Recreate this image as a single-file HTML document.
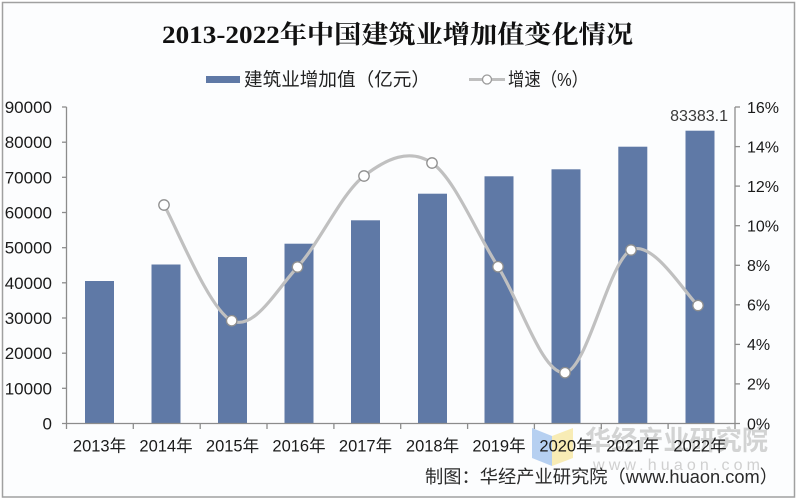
<!DOCTYPE html>
<html><head><meta charset="utf-8">
<style>
html,body{margin:0;padding:0;background:#fff;}
svg{display:block;}
text{font-family:"Liberation Sans","Noto Sans CJK SC",sans-serif;}
</style></head>
<body>
<svg width="797" height="500" viewBox="0 0 797 500" xmlns="http://www.w3.org/2000/svg">
<rect x="0" y="0" width="797" height="500" fill="#ffffff"/>
<rect x="2.5" y="2.5" width="792" height="494.5" fill="#fcfdfe" stroke="#a0a0a0" stroke-width="1.5"/>

<!-- Title -->
<text x="162" y="43" font-size="25" font-weight="bold" fill="#111" textLength="471" lengthAdjust="spacingAndGlyphs" style="font-family:'Liberation Serif','Noto Serif CJK SC',serif;">2013-2022年中国建筑业增加值变化情况</text>

<!-- Legend -->
<rect x="206" y="76" width="34" height="7" fill="#5f79a6"/>
<text x="244" y="86" font-size="18.6" fill="#222" textLength="186" lengthAdjust="spacingAndGlyphs">建筑业增加值（亿元）</text>
<line x1="469" y1="79.5" x2="505" y2="79.5" stroke="#bfbfbf" stroke-width="3"/>
<circle cx="487" cy="79.5" r="4.5" fill="#fff" stroke="#9a9a9a" stroke-width="1.3"/>
<text x="508" y="86" font-size="18.6" fill="#222" textLength="80" lengthAdjust="spacingAndGlyphs">增速（%）</text>

<!-- Watermark -->
<polygon points="532,428 552,436 552,466 532,458" fill="#a9c8ef" opacity="0.85"/>
<polygon points="552,436 573,428 573,458 552,466" fill="#f7e9a8" opacity="0.85"/>
<text x="585" y="450" font-size="27" font-weight="bold" fill="#c4c4c4" fill-opacity="0.75" textLength="183" lengthAdjust="spacingAndGlyphs">华经产业研究院</text>
<text x="593" y="470" font-size="16" fill="#c4c4c4" fill-opacity="0.8" textLength="167" lengthAdjust="spacing">www.huaon.com</text>

<!-- Bars -->
<g fill="#5f79a6">
<rect x="85" y="281" width="29" height="142.5"/>
<rect x="151.5" y="264.5" width="29" height="159"/>
<rect x="218" y="257" width="29" height="166.5"/>
<rect x="284.5" y="243.7" width="29" height="179.8"/>
<rect x="351" y="220.3" width="29" height="203.2"/>
<rect x="418" y="193.7" width="29" height="229.8"/>
<rect x="484.5" y="176.3" width="29" height="247.2"/>
<rect x="551.5" y="169.3" width="29" height="254.2"/>
<rect x="618.3" y="146.7" width="29" height="276.8"/>
<rect x="685.5" y="130.7" width="29" height="292.8"/>
</g>

<!-- Axes -->
<g stroke="#8c8c8c" stroke-width="1.3" fill="none">
<line x1="66.5" y1="107" x2="66.5" y2="423.5"/>
<line x1="735" y1="107" x2="735" y2="423.5"/>
<line x1="62" y1="423.5" x2="740" y2="423.5"/>
<!-- left ticks -->
<line x1="62" y1="107" x2="66.5" y2="107"/>
<line x1="62" y1="142.2" x2="66.5" y2="142.2"/>
<line x1="62" y1="177.3" x2="66.5" y2="177.3"/>
<line x1="62" y1="212.5" x2="66.5" y2="212.5"/>
<line x1="62" y1="247.7" x2="66.5" y2="247.7"/>
<line x1="62" y1="282.8" x2="66.5" y2="282.8"/>
<line x1="62" y1="318" x2="66.5" y2="318"/>
<line x1="62" y1="353.2" x2="66.5" y2="353.2"/>
<line x1="62" y1="388.3" x2="66.5" y2="388.3"/>
<!-- right ticks -->
<line x1="735" y1="107" x2="740" y2="107"/>
<line x1="735" y1="146.6" x2="740" y2="146.6"/>
<line x1="735" y1="186.1" x2="740" y2="186.1"/>
<line x1="735" y1="225.7" x2="740" y2="225.7"/>
<line x1="735" y1="265.3" x2="740" y2="265.3"/>
<line x1="735" y1="304.8" x2="740" y2="304.8"/>
<line x1="735" y1="344.4" x2="740" y2="344.4"/>
<line x1="735" y1="383.9" x2="740" y2="383.9"/>
<!-- x ticks -->
<line x1="66.5" y1="423.5" x2="66.5" y2="429"/>
<line x1="133.3" y1="423.5" x2="133.3" y2="429"/>
<line x1="200.2" y1="423.5" x2="200.2" y2="429"/>
<line x1="267" y1="423.5" x2="267" y2="429"/>
<line x1="333.9" y1="423.5" x2="333.9" y2="429"/>
<line x1="400.7" y1="423.5" x2="400.7" y2="429"/>
<line x1="467.6" y1="423.5" x2="467.6" y2="429"/>
<line x1="534.4" y1="423.5" x2="534.4" y2="429"/>
<line x1="601.3" y1="423.5" x2="601.3" y2="429"/>
<line x1="668.1" y1="423.5" x2="668.1" y2="429"/>
<line x1="735" y1="423.5" x2="735" y2="429"/>
</g>

<!-- Left labels -->
<g font-size="17" fill="#1a1a1a" text-anchor="end">
<text x="52" y="113">90000</text>
<text x="52" y="148.2">80000</text>
<text x="52" y="183.3">70000</text>
<text x="52" y="218.5">60000</text>
<text x="52" y="253.7">50000</text>
<text x="52" y="288.8">40000</text>
<text x="52" y="324">30000</text>
<text x="52" y="359.2">20000</text>
<text x="52" y="394.3">10000</text>
<text x="52" y="429.5">0</text>
</g>

<!-- Right labels -->
<g font-size="16" fill="#1a1a1a">
<text x="747" y="112.8">16%</text>
<text x="747" y="152.4">14%</text>
<text x="747" y="191.9">12%</text>
<text x="747" y="231.5">10%</text>
<text x="747" y="271.1">8%</text>
<text x="747" y="310.6">6%</text>
<text x="747" y="350.2">4%</text>
<text x="747" y="389.7">2%</text>
<text x="747" y="429.3">0%</text>
</g>

<!-- X labels -->
<g font-size="16.5" fill="#1a1a1a" text-anchor="middle">
<text x="99.5" y="451.7">2013年</text>
<text x="166" y="451.7">2014年</text>
<text x="232.5" y="451.7">2015年</text>
<text x="299" y="451.7">2016年</text>
<text x="365.5" y="451.7">2017年</text>
<text x="432.5" y="451.7">2018年</text>
<text x="499" y="451.7">2019年</text>
<text x="566" y="451.7">2020年</text>
<text x="632.8" y="451.7">2021年</text>
<text x="700" y="451.7">2022年</text>
</g>

<!-- Data label -->
<text x="728" y="121" font-size="16" fill="#3a3a3a" text-anchor="end">83383.1</text>

<!-- Growth line -->
<path d="M164,205 C175.3,224.3 209.5,310.4 231.7,320.7 C253.9,331 275.5,291.1 297.5,267 C319.6,242.9 341.6,193.3 364,176 C386.4,158.7 409.7,147.9 432,163 C454.3,178.1 475.8,231.8 498,266.7 C520.2,301.7 542.8,375.5 565,372.7 C587.2,369.9 608.8,261.2 631,250 C653.2,238.8 686.8,296.3 698,305.5" fill="none" stroke="#c0c0c0" stroke-width="3.2" stroke-linecap="round"/>
<g fill="#ffffff" stroke="#8f8f8f" stroke-width="1.3">
<circle cx="164" cy="205" r="5.2"/>
<circle cx="231.7" cy="320.7" r="5.2"/>
<circle cx="297.5" cy="267" r="5.2"/>
<circle cx="364" cy="176" r="5.2"/>
<circle cx="432" cy="163" r="5.2"/>
<circle cx="498" cy="266.7" r="5.2"/>
<circle cx="565" cy="372.7" r="5.2"/>
<circle cx="631" cy="250" r="5.2"/>
<circle cx="698" cy="305.5" r="5.2"/>
</g>

<!-- Source -->
<text x="425" y="483" font-size="18" fill="#2a2a2a" textLength="353" lengthAdjust="spacingAndGlyphs">制图：华经产业研究院（www.huaon.com）</text>
</svg>
</body></html>
